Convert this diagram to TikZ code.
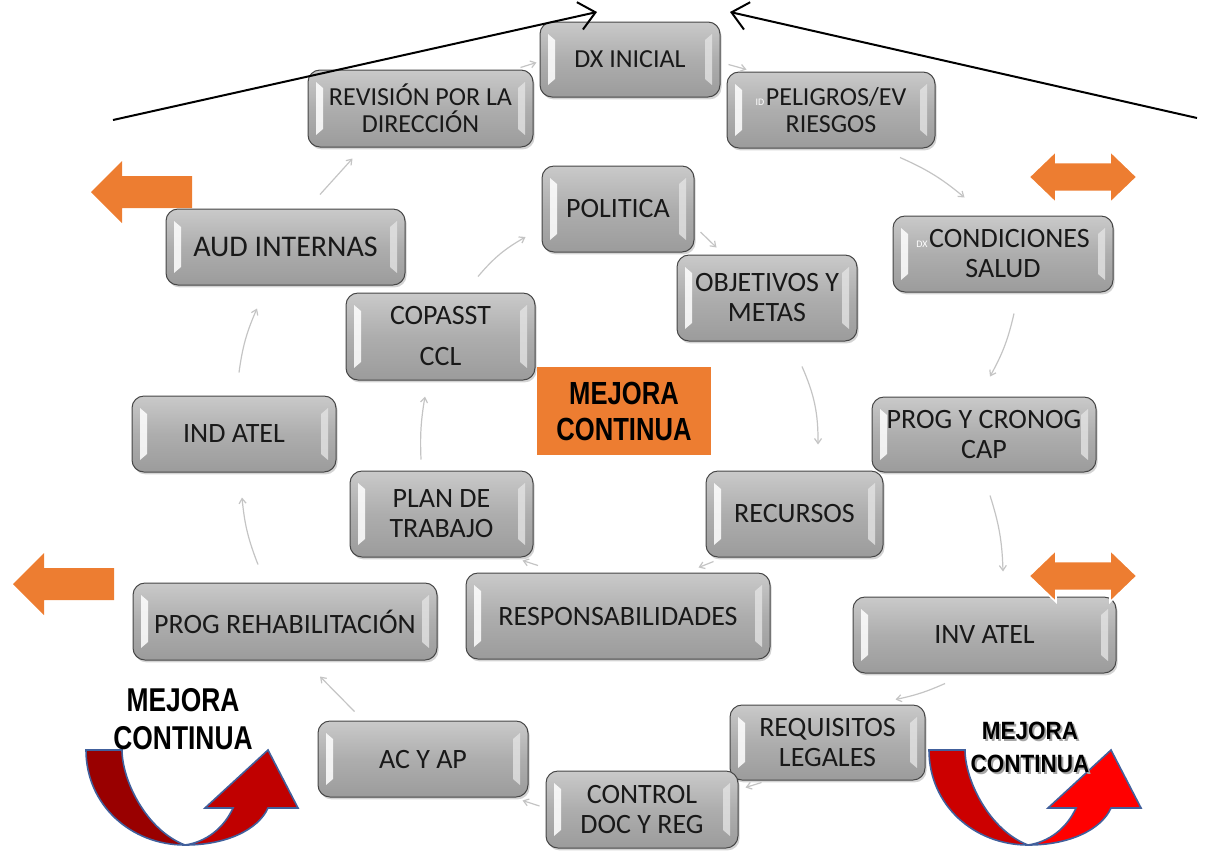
\documentclass[tikz,border=0pt]{standalone}
\usepackage{fontspec}
\setmainfont{Carlito}
\newfontfamily\mejorafont[FakeStretch=0.8]{Liberation Sans}
\newfontfamily\mejorafontb[FakeStretch=0.9]{Liberation Sans}
\usetikzlibrary{calc,shadows,arrows.meta}
\definecolor{naranja}{HTML}{ED7D31}
\definecolor{rojoosc}{HTML}{990000}
\definecolor{rojo}{HTML}{C00000}
\definecolor{rojomed}{HTML}{CC0000}
\definecolor{rojoviv}{HTML}{FF0000}
\definecolor{bordeazul}{HTML}{41609C}
\definecolor{flecha}{HTML}{C4C4C4}
\tikzset{
  gbox/.style={rounded corners=6pt, draw=gray!55!black, line width=0.5pt,
    top color=gray!42, bottom color=gray!78, middle color=gray!64,
    align=center, inner sep=1pt, text=black!90,
    font=\fontsize{14}{15}\selectfont,
    drop shadow={shadow xshift=0.8pt, shadow yshift=-1.2pt, opacity=0.35},
    path picture={
      \fill[white, opacity=0.85, sharp corners]
        ([shift={(4pt,-6pt)}]path picture bounding box.north west) --
        ([shift={(7.5pt,-9pt)}]path picture bounding box.north west) --
        ([shift={(7.5pt,9pt)}]path picture bounding box.south west) --
        ([shift={(4pt,6pt)}]path picture bounding box.south west) -- cycle;
      \fill[gray!22, opacity=0.8, sharp corners]
        ([shift={(-4pt,-6pt)}]path picture bounding box.north east) --
        ([shift={(-7.5pt,-9pt)}]path picture bounding box.north east) --
        ([shift={(-7.5pt,9pt)}]path picture bounding box.south east) --
        ([shift={(-4pt,6pt)}]path picture bounding box.south east) -- cycle;
    }},
  small/.style={font=\fontsize{13}{13.5}\selectfont},
  flow/.style={-{Straight Barb[length=2.5pt,width=3.5pt]}, flecha, line width=0.6pt},
  guia/.style={-{Straight Barb[length=8pt,width=14pt]}, line width=1pt, black},
}
\newcommand{\flechaizq}[2]{%
  \fill[naranja] (#1,#2) -- (#1+31,#2-31) -- (#1+31,#2-16) -- (#1+101,#2-16)
    -- (#1+101,#2+16) -- (#1+31,#2+16) -- (#1+31,#2+31) -- cycle;}
\newcommand{\dobleflecha}[2]{%
  \filldraw[naranja, draw=white, line width=0.8pt] (#1-54,#2) -- (#1-27,#2-26)
    -- (#1-27,#2-14.5) -- (#1+27,#2-14.5) -- (#1+27,#2-26) -- (#1+54,#2)
    -- (#1+27,#2+26) -- (#1+27,#2+14.5) -- (#1-27,#2+14.5) -- (#1-27,#2+26) -- cycle;}
\newcommand{\mejoraflecha}[4]{%
  \begin{scope}[shift={(#1,#2)}]
    \filldraw[fill=#3, draw=bordeazul, line width=0.8pt] (0,0) -- (36,0)
      .. controls (36,30) and (60,80) .. (99,95)
      .. controls (45,95) and (0,55) .. (0,0) -- cycle;
    \filldraw[fill=#4, draw=bordeazul, line width=0.8pt] (99,95)
      .. controls (140,95) and (172,80) .. (182,58) -- (212,58) -- (182,0)
      -- (119,58) -- (147,58) .. controls (138,78) and (120,92) .. (99,95) -- cycle;
  \end{scope}}

\begin{document}
\begin{tikzpicture}[x=0.5pt, y=-0.5pt]
  \useasboundingbox (0,0) rectangle (1205,858);

  % orange arrows
  \flechaizq{91}{192}
  \flechaizq{13}{584}
  \dobleflecha{1083}{177}

  % outer cycle
  \node[gbox, small, minimum width=90pt, minimum height=37.5pt] (dx) at (630,59.5) {DX INICIAL};
  \node[gbox, small, minimum width=112.5pt, minimum height=38.5pt] (rev) at (420.5,108.5) {REVISIÓN POR LA\\DIRECCIÓN};
  \node[gbox, small, minimum width=104pt, minimum height=38pt] (pel) at (831,110) {{\color{white}\fontsize{5}{5}\selectfont ID\,}PELIGROS/EV\\RIESGOS};
  \node[gbox, minimum width=110pt, minimum height=38pt] (cond) at (1003,254) {{\color{white}\fontsize{5}{5}\selectfont DX\,}CONDICIONES\\SALUD};
  \node[gbox, minimum width=112pt, minimum height=37.5pt] (cap) at (984,434.5) {PROG Y CRONOG\\CAP};
  \node[gbox, minimum width=131.5pt, minimum height=38pt] (inv) at (984.5,635) {INV ATEL};
  \node[gbox, minimum width=97.5pt, minimum height=37.5pt] (req) at (827.5,742.5) {REQUISITOS\\LEGALES};
  \node[gbox, minimum width=96pt, minimum height=38.5pt] (ctl) at (642,809.5) {CONTROL\\DOC Y REG};
  \node[gbox, minimum width=105pt, minimum height=38pt] (acap) at (423,759) {AC Y AP};
  \node[gbox, minimum width=152pt, minimum height=38.5pt] (reh) at (285,621.5) {PROG REHABILITACIÓN};
  \node[gbox, minimum width=102pt, minimum height=38pt] (ind) at (234,434) {IND ATEL};
  \node[gbox, minimum width=119.5pt, minimum height=38pt, font=\fontsize{15}{15}\selectfont] (aud) at (285.5,247) {AUD INTERNAS};

  % inner cycle
  \node[gbox, minimum width=76pt, minimum height=43pt] (pol) at (618,209) {POLITICA};
  \node[gbox, minimum width=90pt, minimum height=43pt] (obj) at (767,298) {OBJETIVOS Y\\METAS};
  \node[gbox, minimum width=88.5pt, minimum height=43pt] (rec) at (794.5,514) {RECURSOS};
  \node[gbox, minimum width=152pt, minimum height=43pt] (resp) at (618,616) {RESPONSABILIDADES};
  \node[gbox, minimum width=91.5pt, minimum height=43pt] (plan) at (441.5,514) {PLAN DE\\TRABAJO};
  \node[gbox, minimum width=94.5pt, minimum height=43.5pt] (cop) at (440.5,336.5) {COPASST\\[5.5pt]CCL};

  \node[fill=naranja, minimum width=87pt, minimum height=44pt, align=center,
    font=\mejorafont\bfseries\fontsize{16}{18}\selectfont] (mej) at (624,411) {MEJORA\\CONTINUA};

  \dobleflecha{1083}{576}

  % connectors
  \draw[flow] ([shift={(-13,-2)}]rev.north east) -- ([shift={(-3,3)}]dx.west);
  \draw[flow] ([shift={(8,5)}]dx.east) -- ([shift={(20,-2)}]pel.north west);
  \draw[flow] ([shift={(69,9)}]pel.south) to[bend left=8] ([shift={(72,-18)}]cond.north west);
  \draw[flow] ([shift={(11,21)}]cond.south) to[bend left=8] ([shift={(6,-20)}]cap.north);
  \draw[flow] ([shift={(6,23)}]cap.south) to[bend left=8] ([shift={(18.5,-25)}]inv.north);
  \draw[flow] ([shift={(-39.5,10)}]inv.south) to[bend left=6] ([shift={(-30,-5)}]req.north east);
  \draw[flow] ([shift={(32,2)}]req.south west) -- ([shift={(7,-22)}]ctl.east);
  \draw[flow] ([shift={(-6,-3.5)}]ctl.west) -- ([shift={(-6,3)}]acap.south east);
  \draw[flow] ([shift={(37,-9)}]acap.north west) -- ([shift={(35,16)}]reh.south);
  \draw[flow] ([shift={(-27,-18)}]reh.north) to[bend left=8] ([shift={(8,25)}]ind.south);
  \draw[flow] ([shift={(5,-23)}]ind.north) to[bend left=8] ([shift={(-28.5,23)}]aud.south);
  \draw[flow] ([shift={(34.5,-14)}]aud.north) -- ([shift={(45,11)}]rev.south west);
  \draw[flow] ([shift={(6,23)}]pol.east) -- ([shift={(40,-7)}]obj.north west);
  \draw[flow] ([shift={(35,25)}]obj.south) to[bend left=12] ([shift={(23.5,-26)}]rec.north);
  \draw[flow] ([shift={(8,4)}]rec.south west) -- ([shift={(-72,-5)}]resp.north east);
  \draw[flow] ([shift={(-80,-7)}]resp.north) -- ([shift={(-11,3)}]plan.south east);
  \draw[flow] ([shift={(-20.5,-11)}]plan.north) to[bend left=6] ([shift={(-15.5,16)}]cop.south);
  \draw[flow] ([shift={(37.5,-16)}]cop.north) to[bend left=10] ([shift={(-16,28)}]pol.west);

  % mejora continua arrows
  \mejoraflecha{86}{750}{rojoosc}{rojo}
  \mejoraflecha{929}{750}{rojomed}{rojoviv}
  \node[align=center, font=\mejorafont\bfseries\fontsize{16.5}{19}\selectfont] (mizq) at (183,719) {MEJORA\\CONTINUA};
  \node[align=center, text=gray!70, font=\mejorafontb\bfseries\fontsize{12.5}{16.5}\selectfont] at (1032,749) {MEJORA\\CONTINUA};
  \node[align=center, font=\mejorafontb\bfseries\fontsize{12.5}{16.5}\selectfont] (mder) at (1030,747) {MEJORA\\CONTINUA};

  % guide lines
  \coordinate (lini) at (113,120);
  \coordinate (lfin) at (597,12);
  \coordinate (rini) at (1197,118);
  \coordinate (rfin) at (730,12);
  \draw[guia] (lini) -- (lfin);
  \draw[guia] (rini) -- (rfin);
\end{tikzpicture}
\end{document}
